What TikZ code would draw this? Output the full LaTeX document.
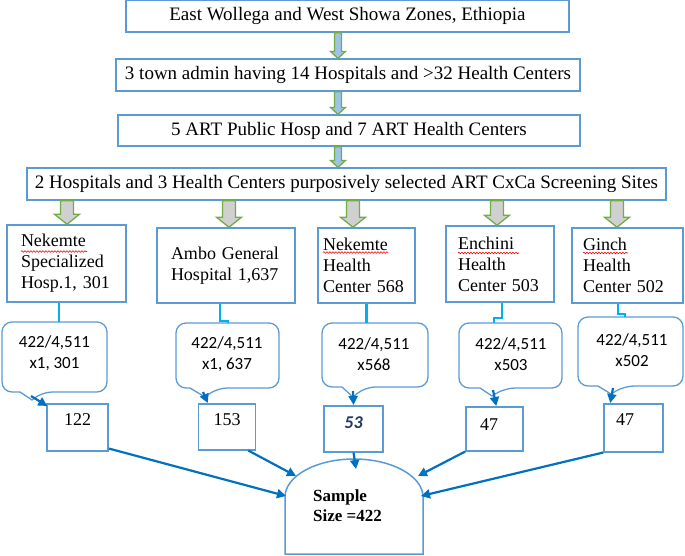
\documentclass[tikz,border=0pt]{standalone}
\usepackage{fontspec}
\setmainfont{Liberation Serif}
\newfontfamily\calfont{Carlito}
\usetikzlibrary{arrows.meta,calc,decorations.pathmorphing}

\definecolor{boxblue}{HTML}{5B9BD5}
\definecolor{arrgreen}{HTML}{70AD47}
\definecolor{arrfillblue}{HTML}{9DC3E6}
\definecolor{arrfillgray}{HTML}{D0D0D0}
\definecolor{linkcyan}{HTML}{00B0F0}
\definecolor{flowblue}{HTML}{0070C0}
\definecolor{darknavy}{HTML}{1F3864}

% block arrow: #1 x, #2 upper node, #3 lower node, #4 half shaft, #5 half head, #6 head length, #7 fill
\newcommand{\blockarr}[7]{%
  \filldraw[draw=arrgreen, line width=1.3pt, fill=#7, line join=miter]
    let \p1=(#2.south), \p2=(#3.north) in
    (#1pt-#4pt,\y1) -- (#1pt+#4pt,\y1) -- (#1pt+#4pt,\y2+#6pt) -- (#1pt+#5pt,\y2+#6pt)
    -- (#1pt,\y2) -- (#1pt-#5pt,\y2+#6pt) -- (#1pt-#4pt,\y2+#6pt) -- cycle;}

% callout outline: #1 x1, #2 y1, #3 x2, #4 y2, #5 tail left, #6 tail right, #7 tip x, #8 tip y
\newcommand{\callbox}[8]{%
  \draw[calloutline] (#7,#8) -- (#5,#4) [rounded corners=10pt] -- (#1,#4) -- (#1,#2)
    -- (#3,#2) -- (#3,#4) -- (#6,#4) [sharp corners] -- cycle;}

\begin{document}
\begin{tikzpicture}[x=1pt,y=-1pt,
  level/.style={draw=boxblue, line width=1.2pt, inner sep=0pt, font=\fontsize{19}{22}\selectfont},
  site/.style={draw=boxblue, line width=1.5pt, inner ysep=0pt, align=left, font=\fontsize{18}{21}\selectfont},
  calloutline/.style={draw=boxblue, line width=1.3pt, fill=white, line join=round},
  calltext/.style={font=\calfont\fontsize{17}{21}\selectfont, align=center, inner sep=0pt},
  numbox/.style={draw=boxblue, line width=1.5pt, inner ysep=0pt, font=\fontsize{18}{21}\selectfont},
  link/.style={draw=linkcyan, line width=2.5pt},
  flow/.style={draw=flowblue, line width=2.2pt, -{Triangle[length=9pt,width=9pt]}},
  squiggle/.style={draw=red, line width=0.6pt, decorate, decoration={snake, amplitude=0.8pt, segment length=3pt}},
]
\useasboundingbox (0,0) rectangle (685,555);

% top levels
\node[level, minimum width=443pt, minimum height=32pt] (b1) at (347.5,16) {East Wollega and West Showa Zones, Ethiopia};
\node[level, minimum width=464pt, minimum height=32pt] (b2) at (348,75) {3 town admin having 14 Hospitals and >32 Health Centers};
\node[level, minimum width=462pt, minimum height=31pt] (b3) at (349,130.5) {5 ART Public Hosp and 7 ART Health Centers};
\node[level, minimum width=639pt, minimum height=32pt] (b4) at (346.5,184) {2 Hospitals and 3 Health Centers purposively selected ART CxCa Screening Sites};

% sites
\node[site, minimum width=119pt, minimum height=77pt, inner xsep=14pt, text width=91pt] (sA) at (66.5,263.5) {Nekemte\\Specialized\\Hosp.1, 301};
\node[site, minimum width=138pt, minimum height=75pt, inner xsep=14pt, text width=110pt] (sB) at (226,265.5) {Ambo General\\Hospital 1,637};
\node[site, minimum width=97pt, minimum height=75pt, inner xsep=5pt, text width=87pt] (sC) at (366.5,265.5) {Nekemte\\Health\\Center 568};
\node[site, minimum width=108pt, minimum height=76pt, inner xsep=12pt, text width=84pt] (sD) at (500,264) {Enchini\\Health\\Center 503};
\node[site, minimum width=111pt, minimum height=75pt, inner xsep=11pt, text width=89pt] (sE) at (627.5,265.5) {Ginch\\Health\\Center 502};

% spell-check marks
\draw[squiggle] (21,251.5) -- (87,251.5);
\draw[squiggle] (323,252.5) -- (388,252.5);
\draw[squiggle] (458,253) -- (519,253);
\draw[squiggle] (583,253) -- (628,253);

% block arrows
\blockarr{338}{b1}{b2}{3.5}{7.5}{7}{arrfillblue}
\blockarr{338}{b2}{b3}{3.5}{7.5}{7}{arrfillblue}
\blockarr{338}{b3}{b4}{3.5}{7.5}{7}{arrfillblue}
\blockarr{67}{b4}{sA}{6.5}{12.5}{10}{arrfillgray}
\blockarr{229}{b4}{sB}{6.5}{12.5}{10}{arrfillgray}
\blockarr{353}{b4}{sC}{6.5}{12.5}{10}{arrfillgray}
\blockarr{497}{b4}{sD}{6.5}{12.5}{10}{arrfillgray}
\blockarr{617}{b4}{sE}{6.5}{12.5}{10}{arrfillgray}

% number boxes
\node[numbox, minimum width=61pt, text height=22pt, text depth=25pt, anchor=north] (n122) at (77.5,403) {122};
\node[numbox, minimum width=57pt, text height=22pt, text depth=24pt, anchor=north] (n153) at (227,403) {153};
\node[numbox, minimum width=59pt, text height=23pt, text depth=23pt, anchor=north, font=\calfont\bfseries\itshape\fontsize{18}{21}\selectfont, text=darknavy] (n53) at (353.5,405) {53};
\node[numbox, inner xsep=14pt, text width=29pt, align=left, text height=24pt, text depth=20pt, anchor=north] (n47a) at (494.5,406) {47};
\node[numbox, inner xsep=12pt, text width=35pt, align=left, text height=22pt, text depth=26pt, anchor=north] (n47b) at (633.5,403) {47};

% callouts
\callbox{2}{322}{107}{392}{20}{42}{32}{400}
\callbox{176}{323}{279}{388}{190}{217}{205}{397}
\callbox{322}{323}{428}{387}{342}{365}{353}{397}
\callbox{459}{323}{562}{388}{480}{505}{492}{396}
\callbox{578}{317}{683}{386}{598}{624}{611}{394}

\node[calltext] (cA) at (54.5,353) {422/4,511\\x1, 301};
\node[calltext] (cB) at (227,354) {422/4,511\\x1, 637};
\node[calltext] (cC) at (374,354) {422/4,511\\x568};
\node[calltext] (cD) at (511,354) {422/4,511\\x503};
\node[calltext] (cE) at (632,350) {422/4,511\\x502};

% link points on callouts
\coordinate (cAtop) at (59,322);
\coordinate (cBtop) at (228,323);
\coordinate (cCtop) at (366.5,323);
\coordinate (cDtop) at (494,323);
\coordinate (cEtop) at (625,317);

\draw[link] (sA.south -| cAtop) -- (cAtop);
\draw[link] ($(sB.south)+(-6,0)$) |- ($(cBtop)+(0,-2)$) -- (cBtop);
\draw[link] (sC.south) -- (cCtop);
\draw[link] ($(sD.south)+(2,0)$) -- ++(0,15) -| (cDtop);
\draw[link] ($(sE.south)+(-9.5,0)$) -- ++(0,10) -| (cEtop);

% flows from callouts to numbers
\coordinate (fA) at (31,396);
\coordinate (fB) at (203,392);
\coordinate (fC) at (353,391);
\coordinate (fD) at (493,390);
\coordinate (fE) at (613,388);
\draw[flow] (fA) -- ($(n122.north west)+(1,3)$);
\draw[flow] (fB) -- ($(n153.north west)+(10,0)$);
\draw[flow] (fC) -- (n53.north);
\draw[flow] (fD) -- ($(n47a.north west)+(31,0)$);
\draw[flow] (fE) -- ($(n47b.north west)+(7,0)$);

% sample size shape
\draw[draw=boxblue, line width=1.5pt, fill=white]
  (285,554) -- (285,497) .. controls (285,476) and (316.2,459) .. (354,459)
  .. controls (391.8,459) and (423,476) .. (423,497) -- (423,554) -- cycle;
\node[font=\bfseries\fontsize{17}{20}\selectfont, align=left, inner sep=0pt, anchor=west] (sample) at (313,506) {Sample\\Size =422};

\coordinate (sIn1) at (286,496);
\coordinate (sIn2) at (296,476);
\coordinate (sIn3) at (356,469);
\coordinate (sIn4) at (418,476);
\coordinate (sIn5) at (421,496);
\draw[flow] ($(n122.south east)+(0,-3)$) -- (sIn1);
\draw[flow] ($(n153.south east)+(-8,0)$) -- (sIn2);
\draw[flow] (n53.south) -- (sIn3);
\draw[flow] (n47a.south west) -- (sIn4);
\draw[flow] (n47b.south west) -- (sIn5);
\end{tikzpicture}
\end{document}
